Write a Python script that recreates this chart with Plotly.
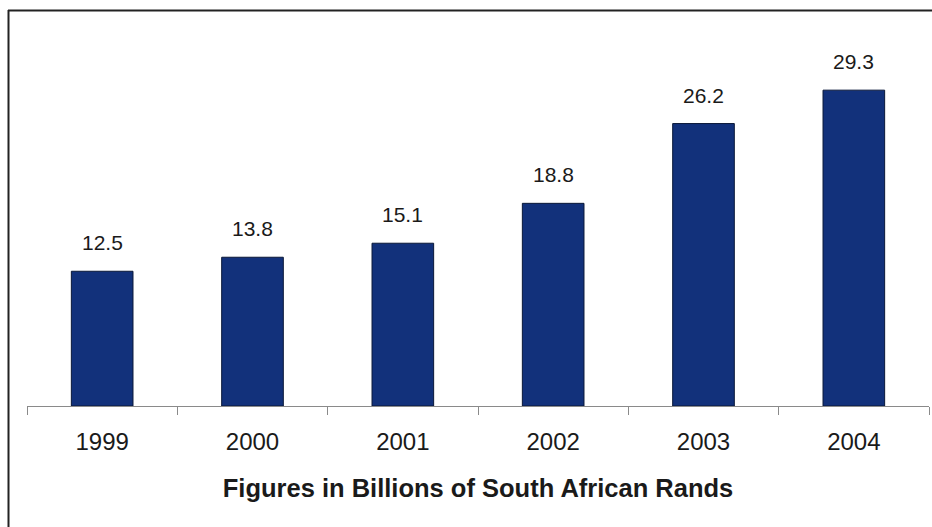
import plotly.graph_objects as go

years = ["1999", "2000", "2001", "2002", "2003", "2004"]
values = [12.5, 13.8, 15.1, 18.8, 26.2, 29.3]
value_labels = ["12.5", "13.8", "15.1", "18.8", "26.2", "29.3"]
x_title = "Figures in Billions of South African Rands"

FONT = "Arial, Liberation Sans, sans-serif"

fig = go.Figure()
fig.add_trace(go.Bar(
    x=years, y=values, width=0.41,
    marker=dict(color="#12317b", line=dict(color="#0a1838", width=1)),
    hoverinfo="skip",
))

for i, (v, lab) in enumerate(zip(values, value_labels)):
    fig.add_annotation(x=i, y=v, xref="x", yref="y", text=lab, showarrow=False,
                       yanchor="bottom", yshift=15,
                       font=dict(family=FONT, size=21, color="#1a1a1a"))

W, H = 932, 527
L, R, T, B = 27, 3, 20, 121
pw, ph = W - L - R, H - T - B

def px_x(x):
    return (x - L) / pw

def px_y(y):
    return (H - B - y) / ph

fig.add_shape(type="line", xref="paper", yref="paper",
              x0=px_x(8.5), x1=px_x(8.5), y0=px_y(10), y1=px_y(527),
              line=dict(color="#222", width=2))
fig.add_shape(type="line", xref="paper", yref="paper",
              x0=px_x(8), x1=px_x(932), y0=px_y(10.5), y1=px_y(10.5),
              line=dict(color="#222", width=2))

fig.update_layout(
    width=W, height=H,
    margin=dict(l=L, r=R, t=T, b=B),
    paper_bgcolor="white", plot_bgcolor="white",
    showlegend=False,
    font=dict(family=FONT, color="#1a1a1a"),
    xaxis=dict(
        type="category", range=[-0.5, 5.5],
        showline=True, linecolor="#8a8a8a", linewidth=1,
        ticks="outside", tickson="boundaries", ticklen=8, tickcolor="#8a8a8a",
        tickfont=dict(size=24, family=FONT, color="#1a1a1a"),
        ticklabelstandoff=14,
        showgrid=False, zeroline=False,
        title=dict(text="<b>" + x_title + "</b>", standoff=25,
                   font=dict(size=25.5, family=FONT, color="#1a1a1a")),
    ),
    yaxis=dict(range=[0, ph / 10.78], showgrid=False, zeroline=False,
               showline=False, showticklabels=False, ticks=""),
)

fig.write_html("out.html", config={"displayModeBar": False},
               post_script="document.body.style.margin='0';document.body.style.overflow='hidden';")
